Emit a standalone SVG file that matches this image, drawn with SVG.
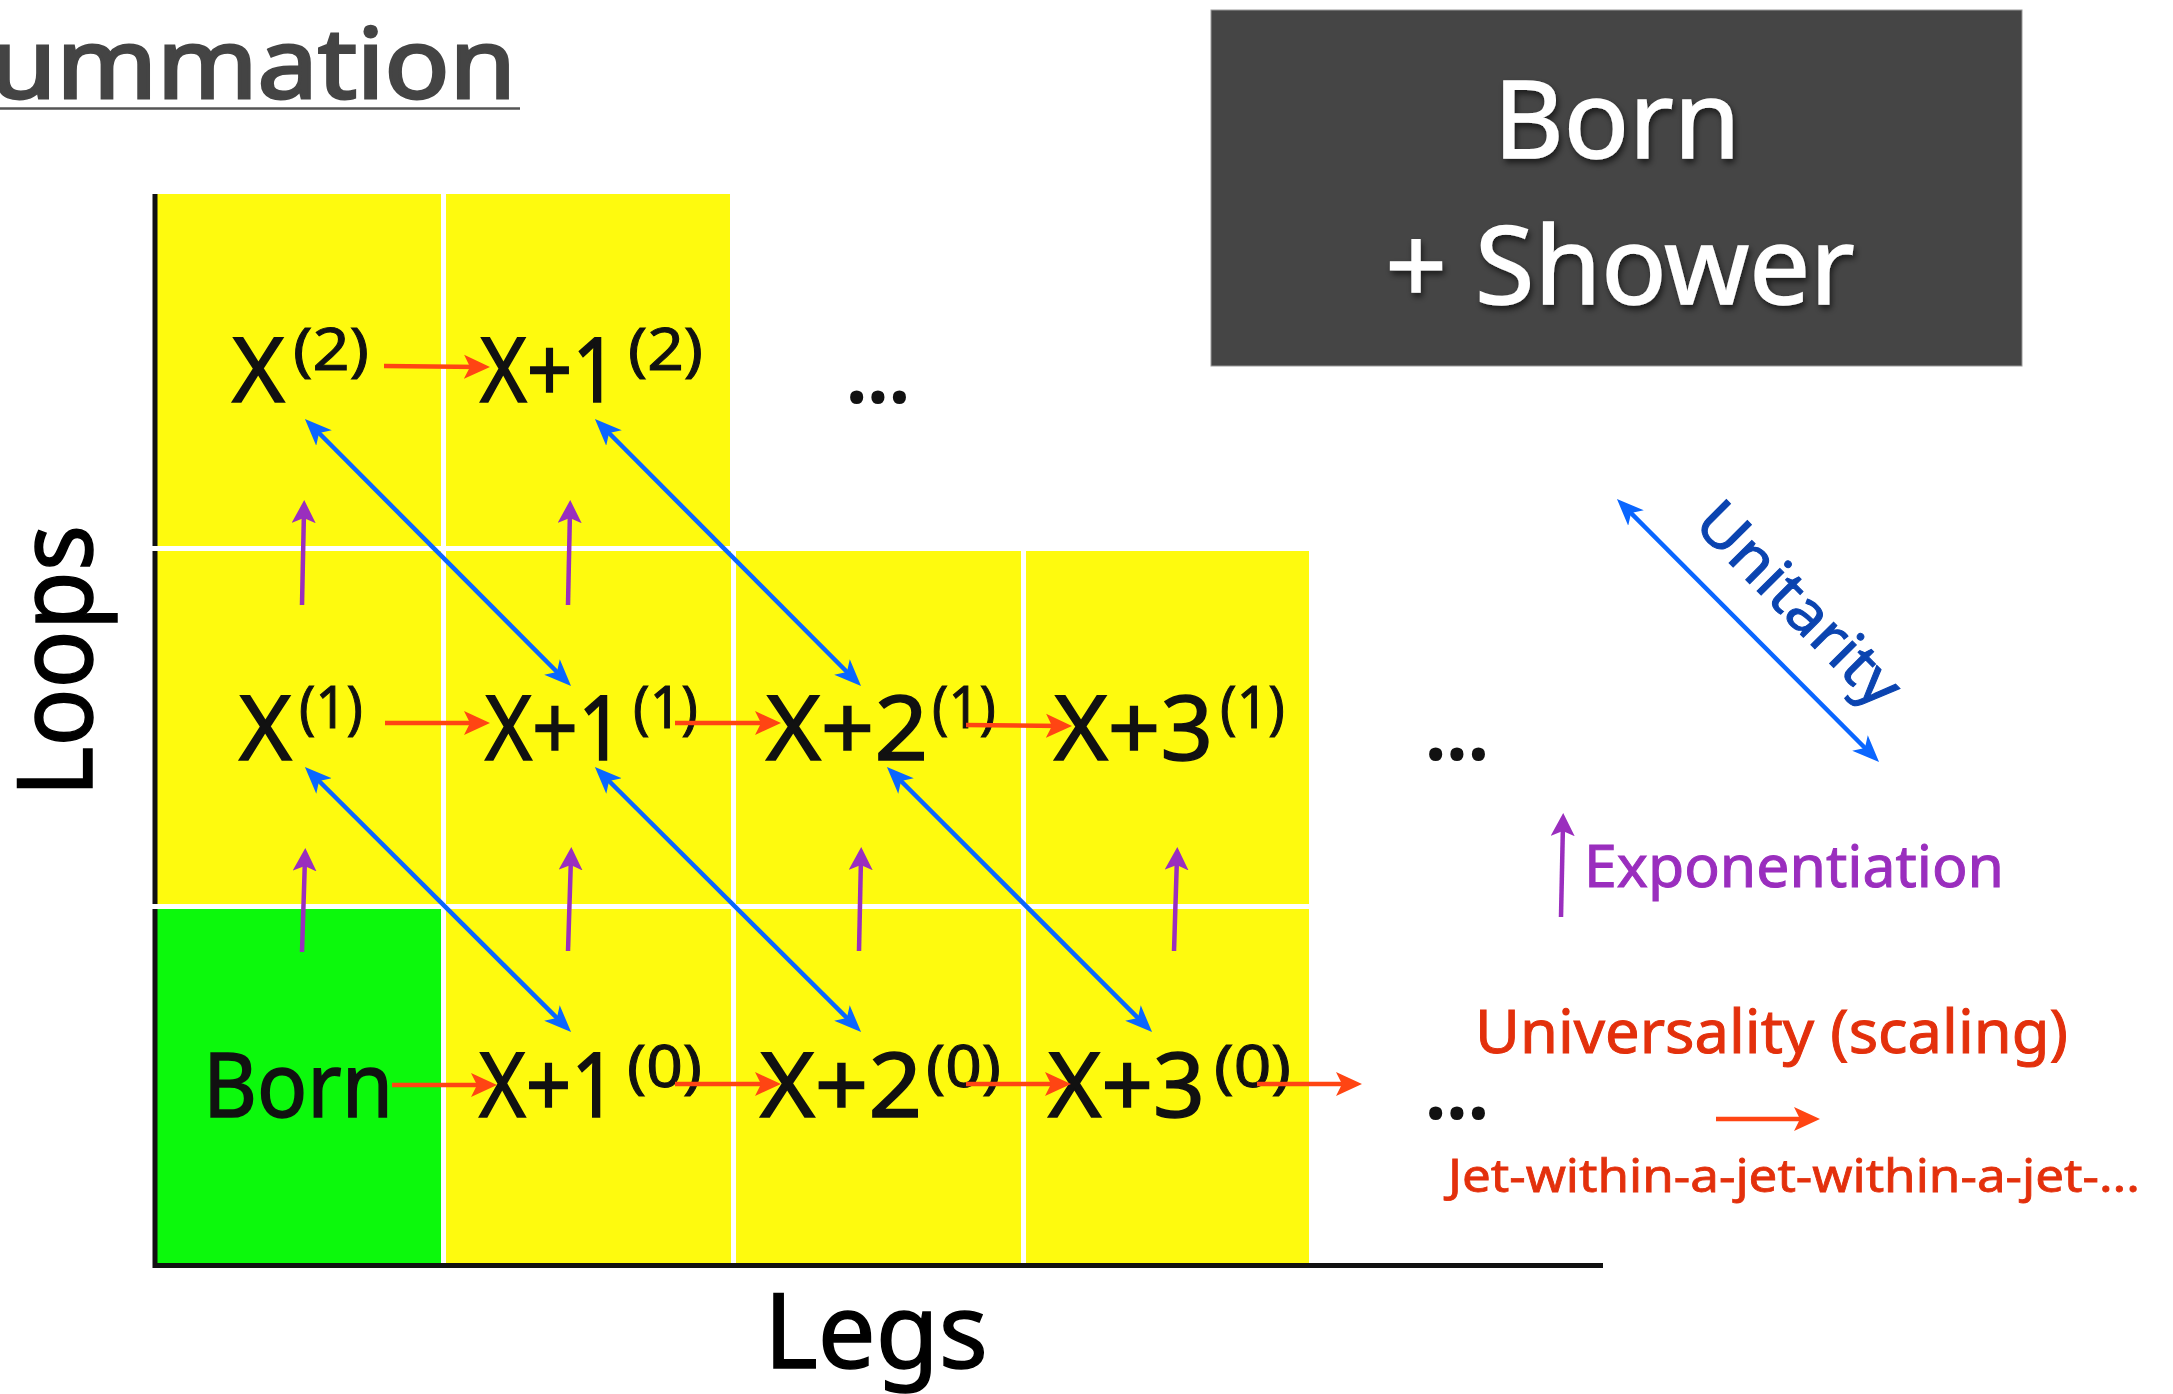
<svg xmlns="http://www.w3.org/2000/svg" width="2173" height="1394" viewBox="0 0 2173 1394">
<style>
  .cy{fill:#FEFA0E}
  .cg{fill:#0CF90C}
  .m{font-family:"Noto Sans","DejaVu Sans",sans-serif;font-size:90px;fill:#111;stroke:#111;stroke-width:1.6}
  .s{font-family:"Noto Sans","DejaVu Sans",sans-serif;font-size:58px;fill:#111;stroke:#111;stroke-width:1}
  .dots{font-family:"Noto Sans","DejaVu Sans",sans-serif;font-weight:bold;font-size:80px;fill:#111}
  .red{stroke:#FF4513;stroke-width:4.5;fill:none;marker-end:url(#hr)}
  .blue{stroke:#0A66FF;stroke-width:4.5;fill:none;marker-end:url(#hb);marker-start:url(#hb)}
  .pur{stroke:#9A2EBE;stroke-width:4.5;fill:none;marker-end:url(#hp)}
  .axis{stroke:#111;stroke-width:5;fill:none}
  .lbl{font-family:"Noto Sans","DejaVu Sans",sans-serif}
</style>
<defs>
  <marker id="hr" markerUnits="userSpaceOnUse" markerWidth="30" markerHeight="30" refX="16" refY="13" orient="auto-start-reverse">
    <path d="M26,13 L0,1 L6,13 L0,25 Z" fill="#FF4513"/>
  </marker>
  <marker id="hb" markerUnits="userSpaceOnUse" markerWidth="30" markerHeight="30" refX="17" refY="12" orient="auto-start-reverse">
    <path d="M27,12 L0,1 L7,12 L0,23 Z" fill="#0A66FF"/>
  </marker>
  <marker id="hp" markerUnits="userSpaceOnUse" markerWidth="30" markerHeight="30" refX="13" refY="12" orient="auto-start-reverse">
    <path d="M23,12 L0,0 L5,12 L0,24 Z" fill="#9A2EBE"/>
  </marker>
  <filter id="sh" x="-10%" y="-20%" width="120%" height="140%">
    <feDropShadow dx="2" dy="4" stdDeviation="3" flood-color="#000" flood-opacity="0.6"/>
  </filter>
</defs>

<rect x="0" y="0" width="2173" height="1394" fill="#fff"/>

<!-- title fragment -->
<g id="title">
  <text class="lbl" x="-10" y="98" font-size="96" fill="#444" stroke="#444" stroke-width="3" textLength="526" lengthAdjust="spacingAndGlyphs">ummation</text>
  <line x1="0" y1="108.5" x2="520" y2="108.5" stroke="#555" stroke-width="2.5"/>
</g>

<!-- nodes -->
<g id="n-x2">
  <rect class="cy" x="157" y="194" width="284" height="352"/>
  <text class="m" x="232" y="402">X</text>
  <text class="s" x="293" y="370" textLength="76" lengthAdjust="spacingAndGlyphs">(2)</text>
</g>
<g id="n-x1-2">
  <rect class="cy" x="446" y="194" width="284" height="352"/>
  <text class="m" x="480" y="402" textLength="138" lengthAdjust="spacingAndGlyphs">X+1</text>
  <text class="s" x="628" y="370" textLength="75" lengthAdjust="spacingAndGlyphs">(2)</text>
</g>
<g id="n-x1">
  <rect class="cy" x="157" y="551" width="284" height="353"/>
  <text class="m" x="239" y="760">X</text>
  <text class="s" x="299" y="728" textLength="64" lengthAdjust="spacingAndGlyphs">(1)</text>
</g>
<g id="n-x1-1">
  <rect class="cy" x="446" y="551" width="285" height="353"/>
  <text class="m" x="485" y="760" textLength="139" lengthAdjust="spacingAndGlyphs">X+1</text>
  <text class="s" x="633" y="728" textLength="65" lengthAdjust="spacingAndGlyphs">(1)</text>
</g>
<g id="n-x2-1">
  <rect class="cy" x="736" y="551" width="285" height="353"/>
  <text class="m" x="766" y="760" textLength="162" lengthAdjust="spacingAndGlyphs">X+2</text>
  <text class="s" x="932" y="728" textLength="64" lengthAdjust="spacingAndGlyphs">(1)</text>
</g>
<g id="n-x3-1">
  <rect class="cy" x="1026" y="551" width="283" height="353"/>
  <text class="m" x="1054" y="760" textLength="159" lengthAdjust="spacingAndGlyphs">X+3</text>
  <text class="s" x="1220" y="728" textLength="65" lengthAdjust="spacingAndGlyphs">(1)</text>
</g>
<g id="n-born">
  <rect class="cg" x="157" y="909" width="284" height="354"/>
  <text class="m" x="203" y="1117" textLength="190" lengthAdjust="spacingAndGlyphs">Born</text>
</g>
<g id="n-x1-0">
  <rect class="cy" x="446" y="909" width="285" height="354"/>
  <text class="m" x="479" y="1117" textLength="138" lengthAdjust="spacingAndGlyphs">X+1</text>
  <text class="s" x="627" y="1087" textLength="75" lengthAdjust="spacingAndGlyphs">(0)</text>
</g>
<g id="n-x2-0">
  <rect class="cy" x="736" y="909" width="285" height="354"/>
  <text class="m" x="760" y="1117" textLength="162" lengthAdjust="spacingAndGlyphs">X+2</text>
  <text class="s" x="926" y="1087" textLength="75" lengthAdjust="spacingAndGlyphs">(0)</text>
</g>
<g id="n-x3-0">
  <rect class="cy" x="1026" y="909" width="283" height="354"/>
  <text class="m" x="1048" y="1117" textLength="157" lengthAdjust="spacingAndGlyphs">X+3</text>
  <text class="s" x="1214" y="1087" textLength="77" lengthAdjust="spacingAndGlyphs">(0)</text>
</g>

<!-- axes -->
<g id="axes">
  <line class="axis" x1="155" y1="194" x2="155" y2="546"/>
  <line class="axis" x1="155" y1="551" x2="155" y2="904"/>
  <line class="axis" x1="155" y1="909" x2="155" y2="1268"/>
  <line class="axis" x1="153" y1="1265.5" x2="1603" y2="1265.5"/>
  <text class="lbl" transform="translate(92,797) rotate(-90)" font-size="104" fill="#000" stroke="#000" stroke-width="1.5" textLength="272" lengthAdjust="spacingAndGlyphs">Loops</text>
  <text class="lbl" x="764" y="1368" font-size="104" fill="#000" stroke="#000" stroke-width="1.5" textLength="224" lengthAdjust="spacingAndGlyphs">Legs</text>
</g>

<!-- ellipses -->
<g id="ellipses">
  <text class="dots" x="846" y="403" textLength="64" lengthAdjust="spacingAndGlyphs">...</text>
  <text class="dots" x="1425" y="760" textLength="64" lengthAdjust="spacingAndGlyphs">...</text>
  <text class="dots" x="1425" y="1119" textLength="64" lengthAdjust="spacingAndGlyphs">...</text>
</g>

<!-- connectors -->
<g id="connectors">
  <path class="red" d="M384,366 L480,367"/>
  <path class="red" d="M385,723 L480,723"/>
  <path class="red" d="M675,723 L771,723"/>
  <path class="red" d="M966,725 L1062,726"/>
  <path class="red" d="M392,1085 L487,1085"/>
  <path class="red" d="M675,1084 L771,1084"/>
  <path class="red" d="M966,1084 L1061,1084"/>
  <path class="red" d="M1257,1084 L1352,1084"/>

  <path class="blue" d="M312,426 L564,679"/>
  <path class="blue" d="M602,426 L854,679"/>
  <path class="blue" d="M312,774 L564,1025"/>
  <path class="blue" d="M602,774 L854,1025"/>
  <path class="blue" d="M894,774 L1145,1025"/>

  <path class="pur" d="M302,605 L304,510"/>
  <path class="pur" d="M568,605 L570,510"/>
  <path class="pur" d="M302,952 L305,858"/>
  <path class="pur" d="M568,951 L571,857"/>
  <path class="pur" d="M859,951 L861,857"/>
  <path class="pur" d="M1174,951 L1177,857"/>
</g>

<!-- legend -->
<g id="legend">
  <path class="blue" d="M1624,506 L1872,755"/>
  <text class="lbl" transform="translate(1617,499) rotate(45)" x="72" y="-34" font-size="60" fill="#0B44B0" stroke="#0B44B0" stroke-width="1" textLength="262" lengthAdjust="spacingAndGlyphs">Unitarity</text>
  <path class="pur" d="M1561,917 L1563,823"/>
  <text class="lbl" x="1584" y="887" font-size="58" fill="#9A2EBE" stroke="#9A2EBE" stroke-width="1" textLength="420" lengthAdjust="spacingAndGlyphs">Exponentiation</text>
  <text class="lbl" x="1475" y="1053" font-size="60" fill="#E3300C" stroke="#E3300C" stroke-width="1" textLength="593" lengthAdjust="spacingAndGlyphs">Universality (scaling)</text>
  <path class="red" d="M1716,1119 L1810,1119"/>
  <text class="lbl" x="1448" y="1192" font-size="46" fill="#E3300C" stroke="#E3300C" stroke-width="0.8" textLength="692" lengthAdjust="spacingAndGlyphs">Jet-within-a-jet-within-a-jet-...</text>
</g>

<!-- Born + Shower box -->
<g id="box">
  <rect x="1211" y="10" width="811" height="356" fill="#454545" stroke="#999" stroke-width="1"/>
  <g filter="url(#sh)" class="lbl" font-size="108" fill="#fff" stroke="#fff" stroke-width="1.5" text-anchor="middle">
    <text x="1617" y="158">Born</text>
    <text x="1620" y="304">+ Shower</text>
  </g>
</g>
</svg>
